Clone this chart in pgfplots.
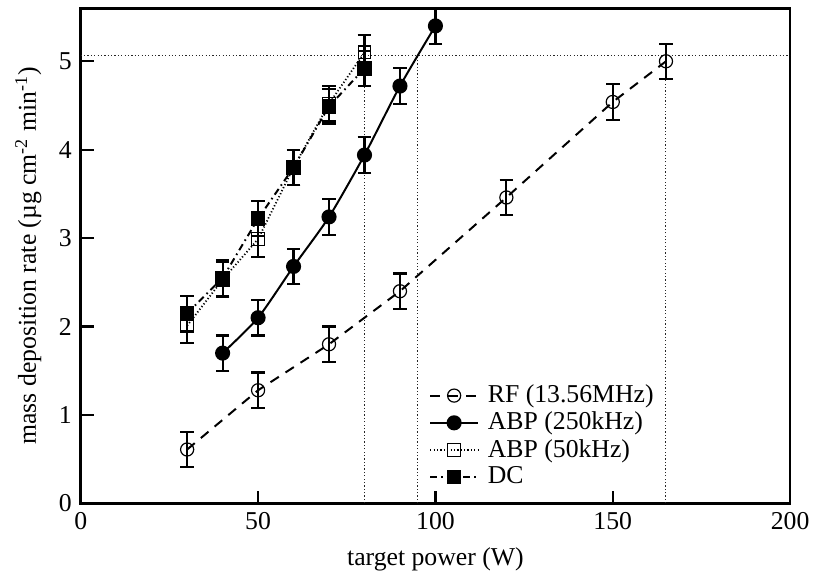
\documentclass[border=0pt]{standalone}
\usepackage{fontspec}
\setmainfont{Liberation Serif}
\usepackage{pgfplots}
\pgfplotsset{compat=1.18}
\pgfplotsset{
  myerr/.style={error bars/.cd, y dir=both, y fixed=0.2,
    error bar style={solid, line width=1.1bp, black},
    error mark options={rotate=90, mark size=3.4bp, line width=1.1bp, solid, black}},
}
\begin{document}
\fontsize{13}{15}\selectfont
\begin{tikzpicture}
\begin{axis}[
  name=ax,
  scale only axis, width=357.2bp, height=249.35bp,
  xmin=0, xmax=200, ymin=0, ymax=5.6,
  xtick={0,50,100,150,200}, ytick={0,1,2,3,4,5},
  tick align=inside, tick pos=left, major tick length=6.5bp,
  axis line style={line width=1.3bp},
  tick style={line width=1.1bp, black},
  /pgf/number format/assume math mode=true,
  ticklabel style={font=\fontsize{13}{15}\selectfont},
  label style={font=\fontsize{13}{15}\selectfont},
  xlabel={target power (W)},
  ylabel={mass deposition rate (µg cm\textsuperscript{-2} min\textsuperscript{-1})},
  legend style={draw=none, fill=none, at={(0.488,0.2525)}, anchor=north west,
    font=\fontsize{13}{15}\selectfont, row sep=-1.2bp, inner sep=1bp,
    nodes={inner xsep=4.5bp}},
  legend cell align=left,
  legend image code/.code={\draw[mark repeat=2, mark phase=2, #1] plot coordinates {(0bp,0bp) (12bp,0bp) (24bp,0bp)};},
]
% reference lines
\addplot[forget plot, black!85, line width=0.5bp, dash pattern=on 0.6bp off 1.1bp] coordinates {(0,5.07) (200,5.07)};
\addplot[forget plot, black!85, line width=0.5bp, dash pattern=on 0.6bp off 1.1bp] coordinates {(80,0) (80,5.07)};
\addplot[forget plot, black!85, line width=0.5bp, dash pattern=on 0.6bp off 1.1bp] coordinates {(95,0) (95,5.07)};
\addplot[forget plot, black!85, line width=0.5bp, dash pattern=on 0.6bp off 1.1bp] coordinates {(165,0) (165,5.0)};

% RF
\addplot[black, line width=1bp, dash pattern=on 5bp off 4bp, mark=o,
  mark options={solid, line width=0.6bp, mark size=3.3bp}, myerr]
  coordinates {(30,0.61) (50,1.28) (70,1.80) (90,2.40) (120,3.46) (150,4.54) (165,5.00)};
\addlegendentry{RF (13.56MHz)}

% ABP 250 kHz
\addplot[black, line width=1bp, solid, smooth, tension=0.4, mark=*,
  mark options={solid, mark size=3.3bp}, myerr]
  coordinates {(40,1.70) (50,2.10) (60,2.68) (70,3.24) (80,3.94) (90,4.72) (100,5.40)};
\addlegendentry{ABP (250kHz)}

% ABP 50 kHz
\addplot[black, line width=0.9bp, dash pattern=on 0.6bp off 1.1bp, mark=square,
  mark options={solid, line width=0.6bp, mark size=3.2bp}, myerr]
  coordinates {(30,2.01) (40,2.53) (50,2.99) (60,3.80) (70,4.52) (80,5.10)};
\addlegendentry{ABP (50kHz)}

% DC
\addplot[black, line width=1bp, dash pattern=on 3.5bp off 2bp on 0.8bp off 2bp, mark=square*,
  mark options={solid, mark size=3.2bp}, myerr]
  coordinates {(30,2.15) (40,2.55) (50,3.22) (60,3.80) (70,4.49) (80,4.92)};
\addlegendentry{DC}
\end{axis}
\path ([xshift=-40.65bp,yshift=-37bp]ax.south west) rectangle ([xshift=11.15bp,yshift=4.15bp]ax.north east);
\end{tikzpicture}
\end{document}
